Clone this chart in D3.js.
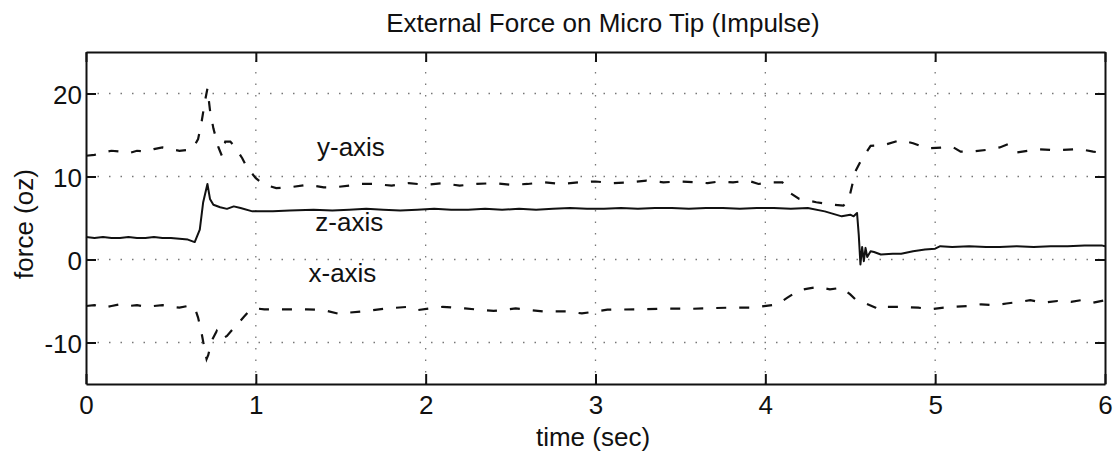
<!DOCTYPE html>
<html>
<head>
<meta charset="utf-8">
<script src="https://cdn.jsdelivr.net/npm/d3@7"></script>
<style>
  html, body { margin: 0; padding: 0; background: #fff; }
  svg { display: block; font-family: "Liberation Sans", Arial, Helvetica, sans-serif; }
</style>
</head>
<body>
<div id="chart"></div>
<script>
// --- DATEN ---
const chartTitle = "External Force on Micro Tip (Impulse)";
const xLabel = "time (sec)";
const yLabel = "force (oz)";

const xTicks = [0, 1, 2, 3, 4, 5, 6];
const yTicks = [-10, 0, 10, 20];

// [Zeit, Kraft]
const zAxisForce = [
  [0, 2.7], [0.05, 2.6], [0.1, 2.7], [0.15, 2.6], [0.2, 2.6], [0.25, 2.7], [0.3, 2.6], [0.35, 2.6],
  [0.4, 2.7], [0.45, 2.6], [0.5, 2.6], [0.55, 2.5], [0.6, 2.4], [0.64, 2.1], [0.67, 3.6], [0.69, 6.9],
  [0.715, 9.1], [0.73, 7.3], [0.75, 6.6], [0.79, 6.3], [0.83, 6.1], [0.87, 6.4], [0.91, 6.2], [0.98, 5.8],
  [1.1, 5.8], [1.2, 5.9], [1.34, 6.0], [1.45, 5.9], [1.55, 6.0], [1.65, 6.1], [1.75, 6.0], [1.85, 5.9],
  [1.95, 6.0], [2.05, 6.1], [2.15, 6.0], [2.25, 6.0], [2.35, 6.1], [2.45, 6.0], [2.55, 6.1], [2.65, 6.0],
  [2.75, 6.1], [2.85, 6.2], [2.95, 6.1], [3.05, 6.1], [3.15, 6.2], [3.25, 6.1], [3.35, 6.2], [3.45, 6.2],
  [3.55, 6.1], [3.65, 6.2], [3.75, 6.2], [3.85, 6.1], [3.95, 6.2], [4.05, 6.2], [4.15, 6.1], [4.25, 6.2],
  [4.35, 5.8], [4.4, 5.5], [4.45, 5.2], [4.5, 5.4], [4.52, 5.2], [4.54, 5.6], [4.55, 3.0], [4.56, -0.6],
  [4.57, 1.5], [4.58, -0.2], [4.59, 1.4], [4.6, 0.3], [4.62, 1.0], [4.64, 0.9], [4.68, 0.6], [4.75, 0.7],
  [4.8, 0.7], [4.87, 1.0], [4.94, 1.2], [5.0, 1.3], [5.03, 1.6], [5.1, 1.5], [5.2, 1.6], [5.3, 1.5],
  [5.38, 1.5], [5.48, 1.6], [5.58, 1.5], [5.68, 1.6], [5.78, 1.6], [5.88, 1.7], [5.98, 1.7], [6.0, 1.6]
];

const yAxisForce = [
  [0, 12.5], [0.05, 12.6], [0.1, 12.9], [0.15, 13.1], [0.2, 13.0], [0.25, 12.8], [0.3, 13.1], [0.35, 13.0],
  [0.4, 13.3], [0.45, 13.5], [0.5, 13.3], [0.55, 13.1], [0.6, 13.2], [0.63, 13.4], [0.66, 14.5], [0.68, 16.5],
  [0.7, 19.0], [0.715, 20.6], [0.73, 18.0], [0.75, 15.8], [0.78, 13.5], [0.8, 12.5], [0.82, 14.2], [0.85, 14.2],
  [0.88, 13.5], [0.92, 12.2], [0.95, 11.0], [0.98, 10.3], [1.0, 9.8], [1.03, 9.3], [1.07, 8.9], [1.12, 8.6],
  [1.2, 8.7], [1.3, 9.0], [1.4, 8.7], [1.46, 8.7], [1.55, 8.9], [1.62, 9.1], [1.7, 9.1], [1.8, 8.9],
  [1.9, 9.2], [2.0, 9.0], [2.1, 9.2], [2.2, 8.9], [2.3, 9.1], [2.4, 9.2], [2.5, 9.0], [2.6, 9.1],
  [2.7, 9.3], [2.8, 9.1], [2.9, 9.3], [3.0, 9.4], [3.1, 9.2], [3.2, 9.3], [3.3, 9.5], [3.4, 9.3],
  [3.5, 9.4], [3.6, 9.3], [3.66, 9.2], [3.73, 9.4], [3.81, 9.3], [3.9, 9.5], [3.96, 9.1], [4.03, 9.3],
  [4.1, 9.3], [4.14, 8.1], [4.2, 7.3], [4.3, 6.9], [4.4, 6.6], [4.46, 6.5], [4.49, 7.1], [4.53, 10.6],
  [4.56, 11.8], [4.62, 13.7], [4.7, 13.8], [4.8, 14.4], [4.87, 14.0], [4.95, 13.4], [5.05, 13.5], [5.1, 13.6],
  [5.15, 13.0], [5.22, 13.0], [5.3, 13.2], [5.38, 13.5], [5.43, 13.9], [5.48, 12.9], [5.55, 13.1], [5.6, 13.3],
  [5.68, 13.2], [5.75, 13.2], [5.85, 13.3], [5.93, 13.0], [6.0, 12.8]
];

const xAxisForce = [
  [0, -5.6], [0.05, -5.5], [0.1, -5.8], [0.15, -5.6], [0.2, -5.4], [0.25, -5.6], [0.3, -5.5], [0.35, -5.7],
  [0.4, -5.6], [0.45, -5.5], [0.5, -5.7], [0.55, -5.8], [0.6, -5.6], [0.64, -5.8], [0.66, -7.0], [0.68, -8.8],
  [0.7, -11.0], [0.71, -12.0], [0.72, -11.5], [0.74, -9.8], [0.77, -8.6], [0.8, -9.6], [0.83, -9.2], [0.86, -8.5],
  [0.9, -7.6], [0.93, -6.9], [0.96, -6.2], [1.0, -5.9], [1.05, -6.0], [1.2, -6.0], [1.3, -6.0], [1.4, -6.1],
  [1.5, -6.6], [1.55, -6.4], [1.65, -6.2], [1.77, -5.9], [1.9, -5.7], [1.95, -6.1], [2.1, -5.7], [2.23, -5.9],
  [2.4, -6.2], [2.53, -5.9], [2.69, -6.25], [2.83, -6.25], [2.92, -6.5], [3.07, -6.05], [3.27, -6.0], [3.42, -5.9],
  [3.55, -5.95], [3.7, -5.85], [3.79, -5.8], [3.93, -5.8], [4.07, -5.4], [4.13, -4.6], [4.2, -3.7], [4.25, -3.5],
  [4.31, -3.3], [4.38, -3.6], [4.45, -3.4], [4.5, -4.2], [4.53, -4.8], [4.58, -5.2], [4.65, -5.8], [4.68, -6.1],
  [4.72, -5.7], [4.8, -5.7], [4.9, -5.8], [4.97, -6.0], [5.05, -5.8], [5.11, -5.7], [5.2, -5.6], [5.27, -5.4],
  [5.35, -5.5], [5.42, -5.3], [5.5, -5.1], [5.56, -4.9], [5.64, -5.2], [5.72, -5.0], [5.8, -5.1], [5.86, -4.9],
  [5.93, -5.2], [6.0, -4.9]
];

// Beschriftungen direkt im Plot: [Text, Zeit, Kraft]
const seriesLabels = [
  ["y-axis", 1.36, 12.5],
  ["z-axis", 1.35, 3.4],
  ["x-axis", 1.31, -2.7]
];

// --- KONFIGURATION ---
const width = 1119;
const height = 456;
const margin = { top: 52, right: 14, bottom: 72, left: 86 };
const fontSize = 26;
const ink = "#111";

const svg = d3.select("#chart").append("svg")
  .attr("width", width)
  .attr("height", height);

svg.append("rect").attr("width", width).attr("height", height).attr("fill", "#fff");

const x = d3.scaleLinear().domain([0, 6]).range([margin.left, width - margin.right]);
const y = d3.scaleLinear().domain([-15, 25]).range([height - margin.bottom, margin.top]);

// Gitterlinien (gepunktet, nur innere Werte)
const grid = svg.append("g").attr("class", "grid")
  .attr("stroke", "#777")
  .attr("stroke-width", 1.3)
  .attr("stroke-dasharray", "1.5,10");

grid.selectAll("line.gx")
  .data(xTicks.filter(d => d > 0 && d < 6))
  .join("line")
  .attr("class", "gx")
  .attr("x1", d => x(d)).attr("x2", d => x(d))
  .attr("y1", y.range()[0]).attr("y2", y.range()[1]);

grid.selectAll("line.gy")
  .data(yTicks)
  .join("line")
  .attr("class", "gy")
  .attr("x1", x.range()[0]).attr("x2", x.range()[1])
  .attr("y1", d => y(d)).attr("y2", d => y(d));

// Kurven
const line = d3.line().x(d => x(d[0])).y(d => y(d[1]));

svg.append("path")
  .datum(zAxisForce)
  .attr("d", line)
  .attr("fill", "none")
  .attr("stroke", ink)
  .attr("stroke-width", 2)
  .attr("stroke-linejoin", "round");

[yAxisForce, xAxisForce].forEach(series => {
  svg.append("path")
    .datum(series)
    .attr("d", line)
    .attr("fill", "none")
    .attr("stroke", ink)
    .attr("stroke-width", 2.2)
    .attr("stroke-dasharray", "10,13");
});

// Achsen (MATLAB-Box: Ticks nach innen auf allen vier Seiten)
function styleAxis(g) {
  g.attr("font-size", fontSize).attr("font-family", null);
  g.select(".domain").attr("stroke", ink).attr("stroke-width", 2);
  g.selectAll(".tick line").attr("stroke", ink).attr("stroke-width", 2);
  g.selectAll(".tick text").attr("fill", ink);
}

// einfacher Bindestrich statt Unicode-Minus wie im Original
const plainFormat = d => String(d);

svg.append("g")
  .attr("transform", `translate(0,${y.range()[0]})`)
  .call(d3.axisBottom(x).tickValues(xTicks).tickFormat(plainFormat)
    .tickSizeInner(-10).tickSizeOuter(0).tickPadding(12))
  .call(styleAxis);

svg.append("g")
  .attr("transform", `translate(0,${y.range()[1]})`)
  .call(d3.axisTop(x).tickValues(xTicks).tickFormat("")
    .tickSizeInner(-10).tickSizeOuter(0))
  .call(styleAxis);

svg.append("g")
  .attr("transform", `translate(${x.range()[0]},0)`)
  .call(d3.axisLeft(y).tickValues(yTicks).tickFormat(plainFormat)
    .tickSizeInner(-10).tickSizeOuter(0).tickPadding(4))
  .call(styleAxis)
  .call(g => g.selectAll(".tick text").attr("dy", "0.4em"));

svg.append("g")
  .attr("transform", `translate(${x.range()[1]},0)`)
  .call(d3.axisRight(y).tickValues(yTicks).tickFormat("")
    .tickSizeInner(-10).tickSizeOuter(0))
  .call(styleAxis);

// Titel und Achsenbeschriftungen
svg.append("text")
  .attr("x", 603).attr("y", 32)
  .attr("text-anchor", "middle")
  .attr("font-size", fontSize)
  .attr("fill", ink)
  .text(chartTitle);

svg.append("text")
  .attr("x", 593).attr("y", 446)
  .attr("text-anchor", "middle")
  .attr("font-size", fontSize)
  .attr("fill", ink)
  .text(xLabel);

svg.append("text")
  .attr("transform", "translate(33,224) rotate(-90)")
  .attr("text-anchor", "middle")
  .attr("font-size", fontSize)
  .attr("fill", ink)
  .text(yLabel);

svg.selectAll("text.series-label")
  .data(seriesLabels)
  .join("text")
  .attr("class", "series-label")
  .attr("x", d => x(d[1]))
  .attr("y", d => y(d[2]))
  .attr("font-size", fontSize)
  .attr("fill", ink)
  .text(d => d[0]);
</script>
</body>
</html>
